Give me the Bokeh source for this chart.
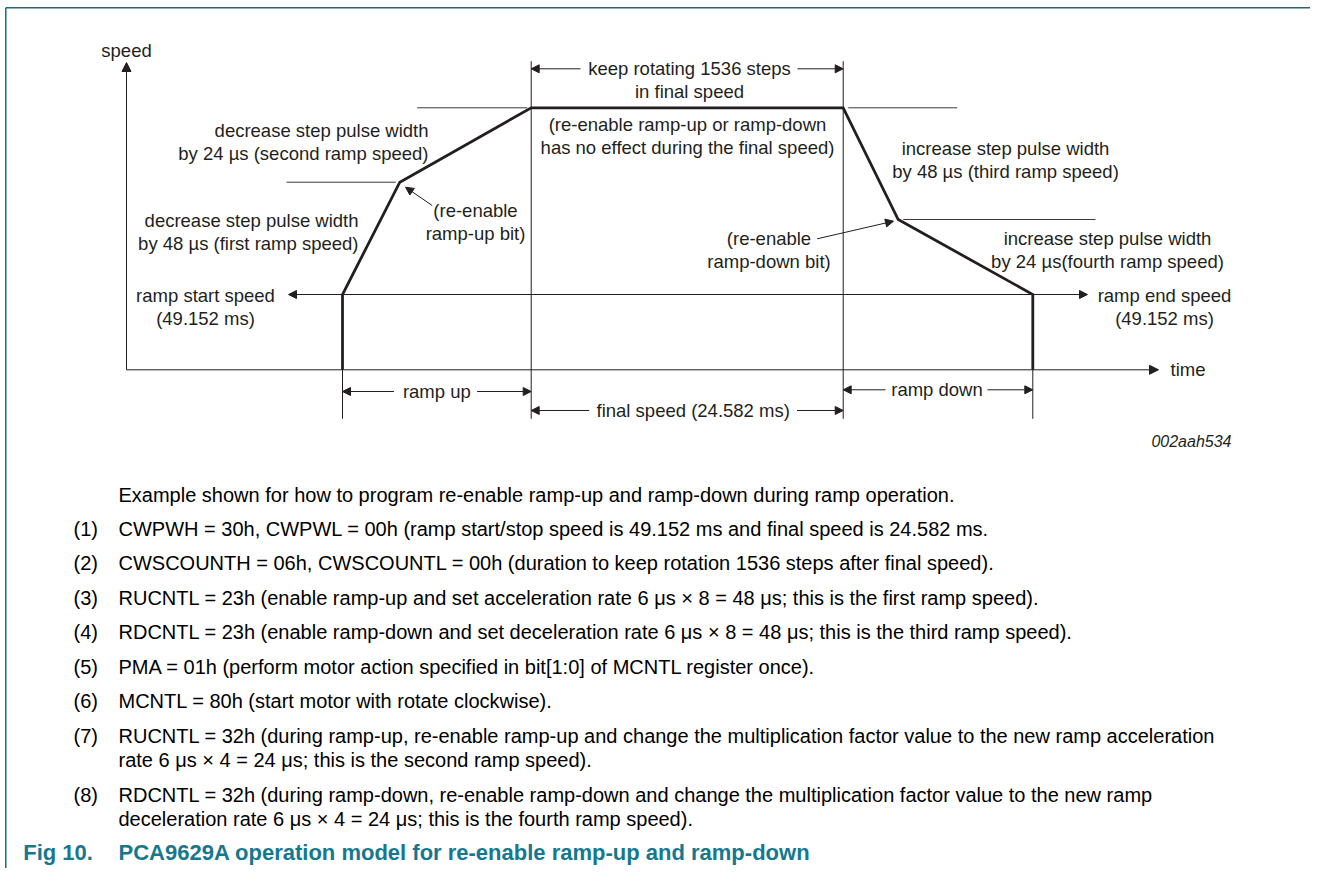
from bokeh.plotting import figure
from bokeh.models import Range1d, Arrow, NormalHead
from bokeh.core.properties import value
from bokeh.embed import file_html
from bokeh.resources import INLINE

# ---------------- data (diagram units: time -> x, speed -> y, screen-like) -------------
# time breakpoints of the speed profile
t_points = [342, 342, 399.3, 530.7, 842.7, 897.7, 1032.3, 1032.3]
# speed level at each breakpoint (smaller value = higher speed on the drawing)
v_points = [369.3, 294, 181.7, 107.3, 107.3, 219, 294, 369.3]

t_axis_origin = 126
t_axis_end = 1158
v_axis_zero = 369.3
v_axis_top = 62

diagram_labels_left = [
    ["decrease step pulse width", "by 24 µs (second ramp speed)"],
    ["decrease step pulse width", "by 48 µs (first ramp speed)"],
]
diagram_labels_center = [
    ["(re-enable", "ramp-up bit)"],
    ["ramp start speed", "(49.152 ms)"],
    ["keep rotating 1536 steps", "in final speed"],
    ["(re-enable ramp-up or ramp-down", "has no effect during the final speed)"],
    ["(re-enable", "ramp-down bit)"],
    ["increase step pulse width", "by 48 µs (third ramp speed)"],
    ["increase step pulse width", "by 24 µs(fourth ramp speed)"],
    ["ramp end speed", "(49.152 ms)"],
]
interval_labels = ["ramp up", "final speed (24.582 ms)", "ramp down"]
axis_labels = ["speed", "time"]
figure_code = "002aah534"

intro = "Example shown for how to program re-enable ramp-up and ramp-down during ramp operation."
note_nums = ["(1)", "(2)", "(3)", "(4)", "(5)", "(6)", "(7)", "(8)"]
note_lines = [
    ["CWPWH = 30h, CWPWL = 00h (ramp start/stop speed is 49.152 ms and final speed is 24.582 ms."],
    ["CWSCOUNTH = 06h, CWSCOUNTL = 00h (duration to keep rotation 1536 steps after final speed)."],
    ["RUCNTL = 23h (enable ramp-up and set acceleration rate 6 μs × 8 = 48 μs; this is the first ramp speed)."],
    ["RDCNTL = 23h (enable ramp-down and set deceleration rate 6 μs × 8 = 48 μs; this is the third ramp speed)."],
    ["PMA = 01h (perform motor action specified in bit[1:0] of MCNTL register once)."],
    ["MCNTL = 80h (start motor with rotate clockwise)."],
    ["RUCNTL = 32h (during ramp-up, re-enable ramp-up and change the multiplication factor value to the new ramp acceleration",
     "rate 6 μs × 4 = 24 μs; this is the second ramp speed)."],
    ["RDCNTL = 32h (during ramp-down, re-enable ramp-down and change the multiplication factor value to the new ramp",
     "deceleration rate 6 μs × 4 = 24 μs; this is the fourth ramp speed)."],
]
fig_num = "Fig 10."
fig_title = "PCA9629A operation model for re-enable ramp-up and ramp-down"

# ---------------- styles -------------
INK = "#231f20"
THIN = "#3a3a3a"
TEAL = "#16788f"
FRAME = "#1b6b80"
FONT = "Liberation Sans"
DSIZE = "18.5px"
NSIZE = "20px"

W, H = 1310, 868
p = figure(width=W, height=H, x_range=Range1d(0, W), y_range=Range1d(H, 0),
           output_backend="svg", toolbar_location=None, min_border=0,
           x_axis_type=None, y_axis_type=None)
p.grid.visible = False
p.outline_line_color = None
p.background_fill_color = "white"


def txt(x, y, s, align="center", size=DSIZE, color=INK, style="normal", font=FONT):
    p.text(x=[x], y=[y], text=[s], text_align=align, text_baseline="middle",
           text_font=value(font), text_font_size=value(size), text_color=color,
           text_font_style=style)


def arrow(x0, y0, x1, y1, size=8):
    p.add_layout(Arrow(end=NormalHead(size=size, fill_color=INK, line_color=INK, line_width=1),
                       x_start=x0, y_start=y0, x_end=x1, y_end=y1,
                       line_color=INK, line_width=1))


# frame
p.line([5.3, 5.3], [H, 7.3], line_color=FRAME, line_width=1.5)
p.line([5.3, W], [7.3, 7.3], line_color=FRAME, line_width=1.5)

# axes
arrow(t_axis_origin, v_axis_zero, t_axis_origin, v_axis_top, size=9)
arrow(t_axis_origin, v_axis_zero, t_axis_end, v_axis_zero, size=9)
txt(t_axis_origin, 50, axis_labels[0])
txt(t_axis_end + 12, v_axis_zero, axis_labels[1], align="left")

t_start, t_bu, t_fs, t_fe, t_bd, t_end = t_points[1], t_points[2], t_points[3], t_points[4], t_points[5], t_points[6]
v_ramp, v_bu, v_final, v_bd = v_points[1], v_points[2], v_points[3], v_points[5]

# guide (vertical) lines
guide_bottom = 418.3
guide_top = 60.7
for tx, top in [(t_start, v_ramp), (t_fs, guide_top), (t_fe, guide_top), (t_end, v_ramp)]:
    p.line([tx, tx], [top, guide_bottom], line_color=INK, line_width=1)

# thin reference lines at breakpoints
p.line([286, t_bu - 4], [v_bu, v_bu], line_color=THIN, line_width=1)
p.line([416.7, t_fs - 4], [v_final, v_final], line_color=THIN, line_width=1)
p.line([t_fe + 5, 956.7], [v_final, v_final], line_color=THIN, line_width=1)
p.line([t_bd + 5, 1095], [v_bd, v_bd], line_color=THIN, line_width=1)

# ramp speed line with arrows
p.line([t_start, t_end], [v_ramp, v_ramp], line_color=INK, line_width=1)
arrow(t_start, v_ramp, 288, v_ramp)
arrow(t_end, v_ramp, 1087, v_ramp)

# speed profile (thick)
p.line(t_points, v_points, line_color=INK, line_width=2.8, line_join="miter")

# keep rotating arrows
arrow(580, 68.3, t_fs, 68.3)
arrow(797, 68.3, t_fe, 68.3)

# interval arrows under the axis
y_iv = 391
arrow(393.5, y_iv, t_start, y_iv)
arrow(476.6, y_iv, t_fs, y_iv)
txt((t_start + t_fs) / 2, y_iv, interval_labels[0])
y_fs = 410
arrow(588.7, y_fs, t_fs, y_fs)
arrow(796.5, y_fs, t_fe, y_fs)
txt((t_fs + t_fe) / 2 + 6, y_fs, interval_labels[1])
arrow(885, 389.3, t_fe, 389.3)
arrow(987, 389.3, t_end, 389.3)
txt(936.5, 389.3, interval_labels[2])

# re-enable pointer arrows
arrow(431.7, 205, 405, 186.7)
arrow(816.7, 238.3, 893, 220.7)

# left-side (right aligned) labels
for (l1, l2), (x, y) in zip(diagram_labels_left, [(428, 130), (358, 220)]):
    txt(x, y, l1, align="right")
    txt(x, y + 22.5, l2, align="right")

# centered labels
centers = [(475, 210), (205, 295), (689, 68.3), (687, 124.3), (768.5, 238.3),
           (1005, 148.3), (1107, 238.3), (1164, 295)]
for (l1, l2), (x, y) in zip(diagram_labels_center, centers):
    txt(x, y, l1)
    txt(x, y + 22.5, l2)

txt(1231, 440.7, figure_code, align="right", size="16px", style="italic")

# notes
x_num, x_txt = 73, 118
txt(x_txt, 494, intro, align="left", size=NSIZE, color="black")
y = 528.3
for num, lines in zip(note_nums, note_lines):
    txt(x_num, y, num, align="left", size=NSIZE, color="black")
    for j, line in enumerate(lines):
        txt(x_txt, y + j * 24.5, line, align="left", size=NSIZE, color="black")
    y += 34.5 + (len(lines) - 1) * 24.5

txt(22.7, 852, fig_num, align="left", size="22px", color=TEAL, style="bold")
txt(x_txt, 852, fig_title, align="left", size="22px", color=TEAL, style="bold")

open("out.html", "w").write(file_html(p, INLINE))
